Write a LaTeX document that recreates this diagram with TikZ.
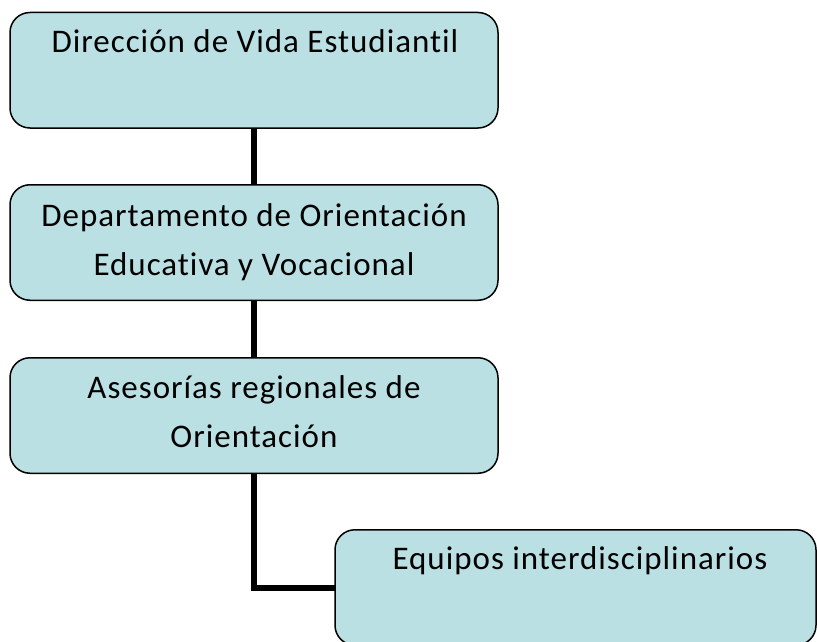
\documentclass[tikz,border=0pt]{standalone}
\usepackage{fontspec}
\setmainfont[Ligatures=NoCommon,LetterSpace=3]{Carlito}
\definecolor{boxfill}{RGB}{186,224,227}
\begin{document}
\begin{tikzpicture}[x=1pt,y=-1pt,
  orgbox/.style={draw=black,line width=1.5pt,fill=boxfill,rounded corners=20pt,minimum width=#1,minimum height=115.5pt,inner sep=0pt,outer sep=0pt},
  orgbox/.default=488pt,
  lbl/.style={anchor=base,inner sep=0pt,font=\fontsize{33}{38}\selectfont},
  link/.style={line width=5.5pt,line cap=butt}]
\useasboundingbox (0,0) rectangle (817,642);
\node[orgbox] (b1) at (254,70.25) {};
\node[orgbox] (b2) at (254,242.5) {};
\node[orgbox] (b3) at (254,415.5) {};
\node[orgbox=481pt] (b4) at (575.5,587.5) {};
\draw[link] (b1.south) -- (b2.north);
\draw[link] (b2.south) -- (b3.north);
\coordinate (corner) at (254,588);
\draw[link] (b3.south) -- ([yshift=2.75pt]corner) -- (corner) -- (corner -| b4.west);
\node[lbl] (t1) at (255,53) {Dirección de Vida Estudiantil};
\node[lbl] (t2a) at (254,226) {Departamento de Orientación};
\node[lbl] (t2b) at (254,275) {Educativa y Vocacional};
\node[lbl] (t3a) at (254,398) {Asesorías regionales de};
\node[lbl] (t3b) at (254,447) {Orientación};
\node[lbl] (t4) at (580,569) {Equipos interdisciplinarios};
\end{tikzpicture}
\end{document}
